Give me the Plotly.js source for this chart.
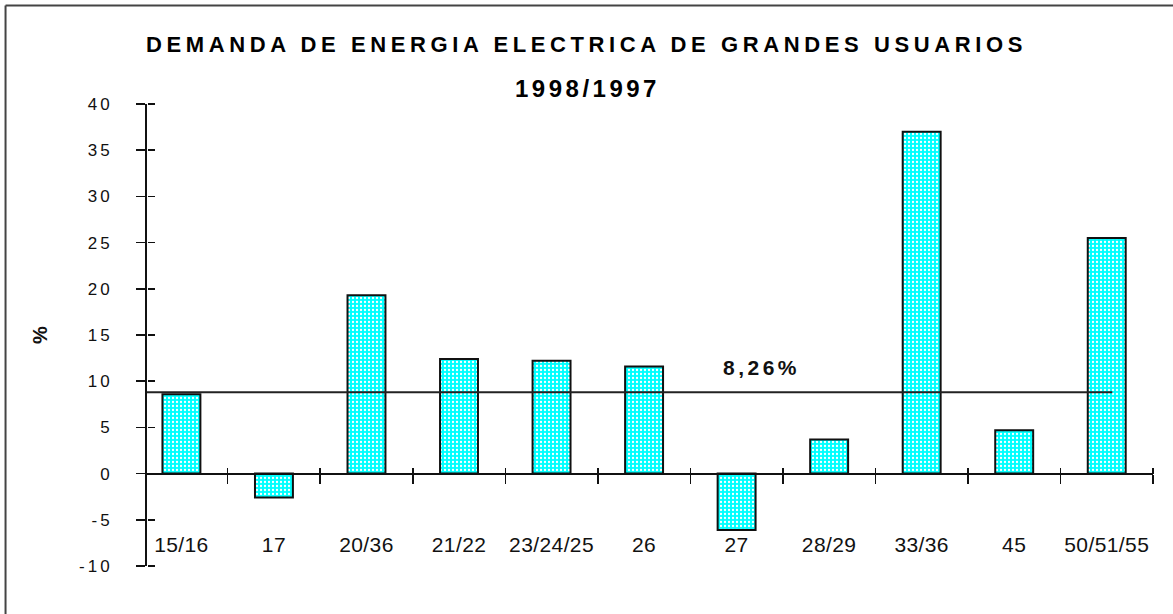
<!DOCTYPE html>
<html>
<head>
<meta charset="utf-8">
<script src="https://cdn.plot.ly/plotly-3.0.1.min.js"></script>
<style>
  html, body { margin: 0; padding: 0; background: #fff; }
  #chart { width: 1173px; height: 614px; }
  .gtitle { letter-spacing: 4.6px; }
  .annotation-text { letter-spacing: 3.5px; }
  .ytick text { letter-spacing: 3px; }
  .xtick text { letter-spacing: 0.4px; }
</style>
</head>
<body>
<div id="chart"></div>
<script>
// ---- data ----
const categories = ["15/16", "17", "20/36", "21/22", "23/24/25", "26", "27", "28/29", "33/36", "45", "50/51/55"];
const variation = [8.6, -2.6, 19.3, 12.4, 12.2, 11.6, -6.1, 3.7, 37.0, 4.7, 25.5];
const averageLevel = [8.8];
const averageLabel = ["8,26%"];
const yTickValues = [-10, -5, 0, 5, 10, 15, 20, 25, 30, 35, 40];
const titleText = "DEMANDA DE ENERGIA ELECTRICA DE GRANDES USUARIOS";
const subtitleText = "1998/1997";

// ---- geometry (pixels) ----
const W = 1173, H = 614;
const M = { l: 147, r: 19.7, t: 104, b: 47.5 };
const plotW = W - M.l - M.r, plotH = H - M.t - M.b;
const xRange = [-0.372, categories.length - 0.5];
const yRange = [-10, 40];
const px2paperX = px => (px - M.l) / plotW;
const py2paperY = py => (H - M.b - py) / plotH;
const zeroPos = (0 - yRange[0]) / (yRange[1] - yRange[0]);

const fontMain = '"Liberation Sans", Arial, sans-serif';

const bars = {
  type: 'bar',
  x: categories,
  y: variation,
  width: 0.41,
  marker: {
    color: '#00ffff',
    line: { color: '#111', width: 2 },
    pattern: { shape: '.', fgcolor: '#ffffff', bgcolor: '#00ffff', size: 4, solidity: 0.25 }
  },
  hoverinfo: 'x+y',
  showlegend: false
};

const ghost = {
  type: 'scatter',
  mode: 'markers',
  x: categories,
  y: variation,
  xaxis: 'x2',
  yaxis: 'y2',
  marker: { opacity: 0 },
  hoverinfo: 'skip',
  showlegend: false
};

const layout = {
  width: W,
  height: H,
  margin: M,
  paper_bgcolor: '#ffffff',
  plot_bgcolor: 'rgba(0,0,0,0)',
  showlegend: false,
  title: {
    text: '<b>' + titleText + '</b>',
    font: { family: fontMain, size: 22, color: '#000' },
    x: 0.5, xref: 'container', xanchor: 'center',
    y: 1 - 44 / H, yref: 'container', yanchor: 'middle'
  },
  xaxis: {
    type: 'category',
    categoryorder: 'array',
    categoryarray: categories,
    range: xRange,
    anchor: 'free',
    position: zeroPos,
    showline: true,
    linecolor: '#111',
    linewidth: 2,
    ticks: 'outside',
    ticklen: 9,
    tickwidth: 1.5,
    tickcolor: '#111',
    tickson: 'boundaries',
    tickangle: 0,
    ticklabelstandoff: 52,
    showgrid: false,
    zeroline: false,
    tickfont: { family: fontMain, size: 21, color: '#111' },
    fixedrange: true
  },
  xaxis2: {
    type: 'category',
    overlaying: 'x',
    matches: 'x',
    anchor: 'free',
    position: zeroPos,
    side: 'top',
    showline: false,
    ticks: 'outside',
    ticklen: 6,
    tickwidth: 1.5,
    tickcolor: '#111',
    tickson: 'boundaries',
    showticklabels: false,
    showgrid: false,
    zeroline: false
  },
  yaxis: {
    range: yRange,
    tickvals: yTickValues,
    ticktext: yTickValues.map(String),
    showline: true,
    linecolor: '#111',
    linewidth: 2,
    ticks: 'outside',
    ticklen: 9,
    tickwidth: 1.5,
    tickcolor: '#111',
    ticklabelstandoff: 20,
    showgrid: false,
    zeroline: false,
    tickfont: { family: fontMain, size: 17, color: '#111' },
    title: {
      text: '<b>%</b>',
      font: { family: fontMain, size: 20, color: '#111' },
      standoff: 26
    },
    fixedrange: true
  },
  yaxis2: {
    overlaying: 'y',
    matches: 'y',
    anchor: 'free',
    position: 0,
    side: 'right',
    tickvals: yTickValues,
    showline: false,
    ticks: 'outside',
    ticklen: 7,
    tickwidth: 1.5,
    tickcolor: '#111',
    showticklabels: false,
    showgrid: false,
    zeroline: false
  },
  shapes: [
    {
      type: 'line', xref: 'x', yref: 'y',
      x0: xRange[0], x1: categories.length - 1 + 0.06,
      y0: averageLevel[0], y1: averageLevel[0],
      line: { color: '#222', width: 2 }, layer: 'above'
    },
    {
      type: 'line', xref: 'paper', yref: 'paper',
      x0: px2paperX(5.5), x1: px2paperX(5.5),
      y0: py2paperY(5.5), y1: py2paperY(H + 2),
      line: { color: '#444', width: 2 }
    },
    {
      type: 'line', xref: 'paper', yref: 'paper',
      x0: px2paperX(5.5), x1: px2paperX(W + 2),
      y0: py2paperY(5.5), y1: py2paperY(5.5),
      line: { color: '#444', width: 2 }
    }
  ],
  annotations: [
    {
      text: '<b>' + subtitleText + '</b>',
      xref: 'paper', yref: 'paper',
      x: px2paperX(588), y: py2paperY(88),
      xanchor: 'center', yanchor: 'middle',
      showarrow: false,
      font: { family: fontMain, size: 24, color: '#000' }
    },
    {
      text: '<b>' + averageLabel[0] + '</b>',
      xref: 'x', yref: 'y',
      x: 6.27, y: 11.5,
      xanchor: 'center', yanchor: 'middle',
      showarrow: false,
      font: { family: fontMain, size: 21, color: '#111' }
    }
  ]
};

Plotly.newPlot('chart', [bars, ghost], layout, { displayModeBar: false, staticPlot: true });
</script>
</body>
</html>
